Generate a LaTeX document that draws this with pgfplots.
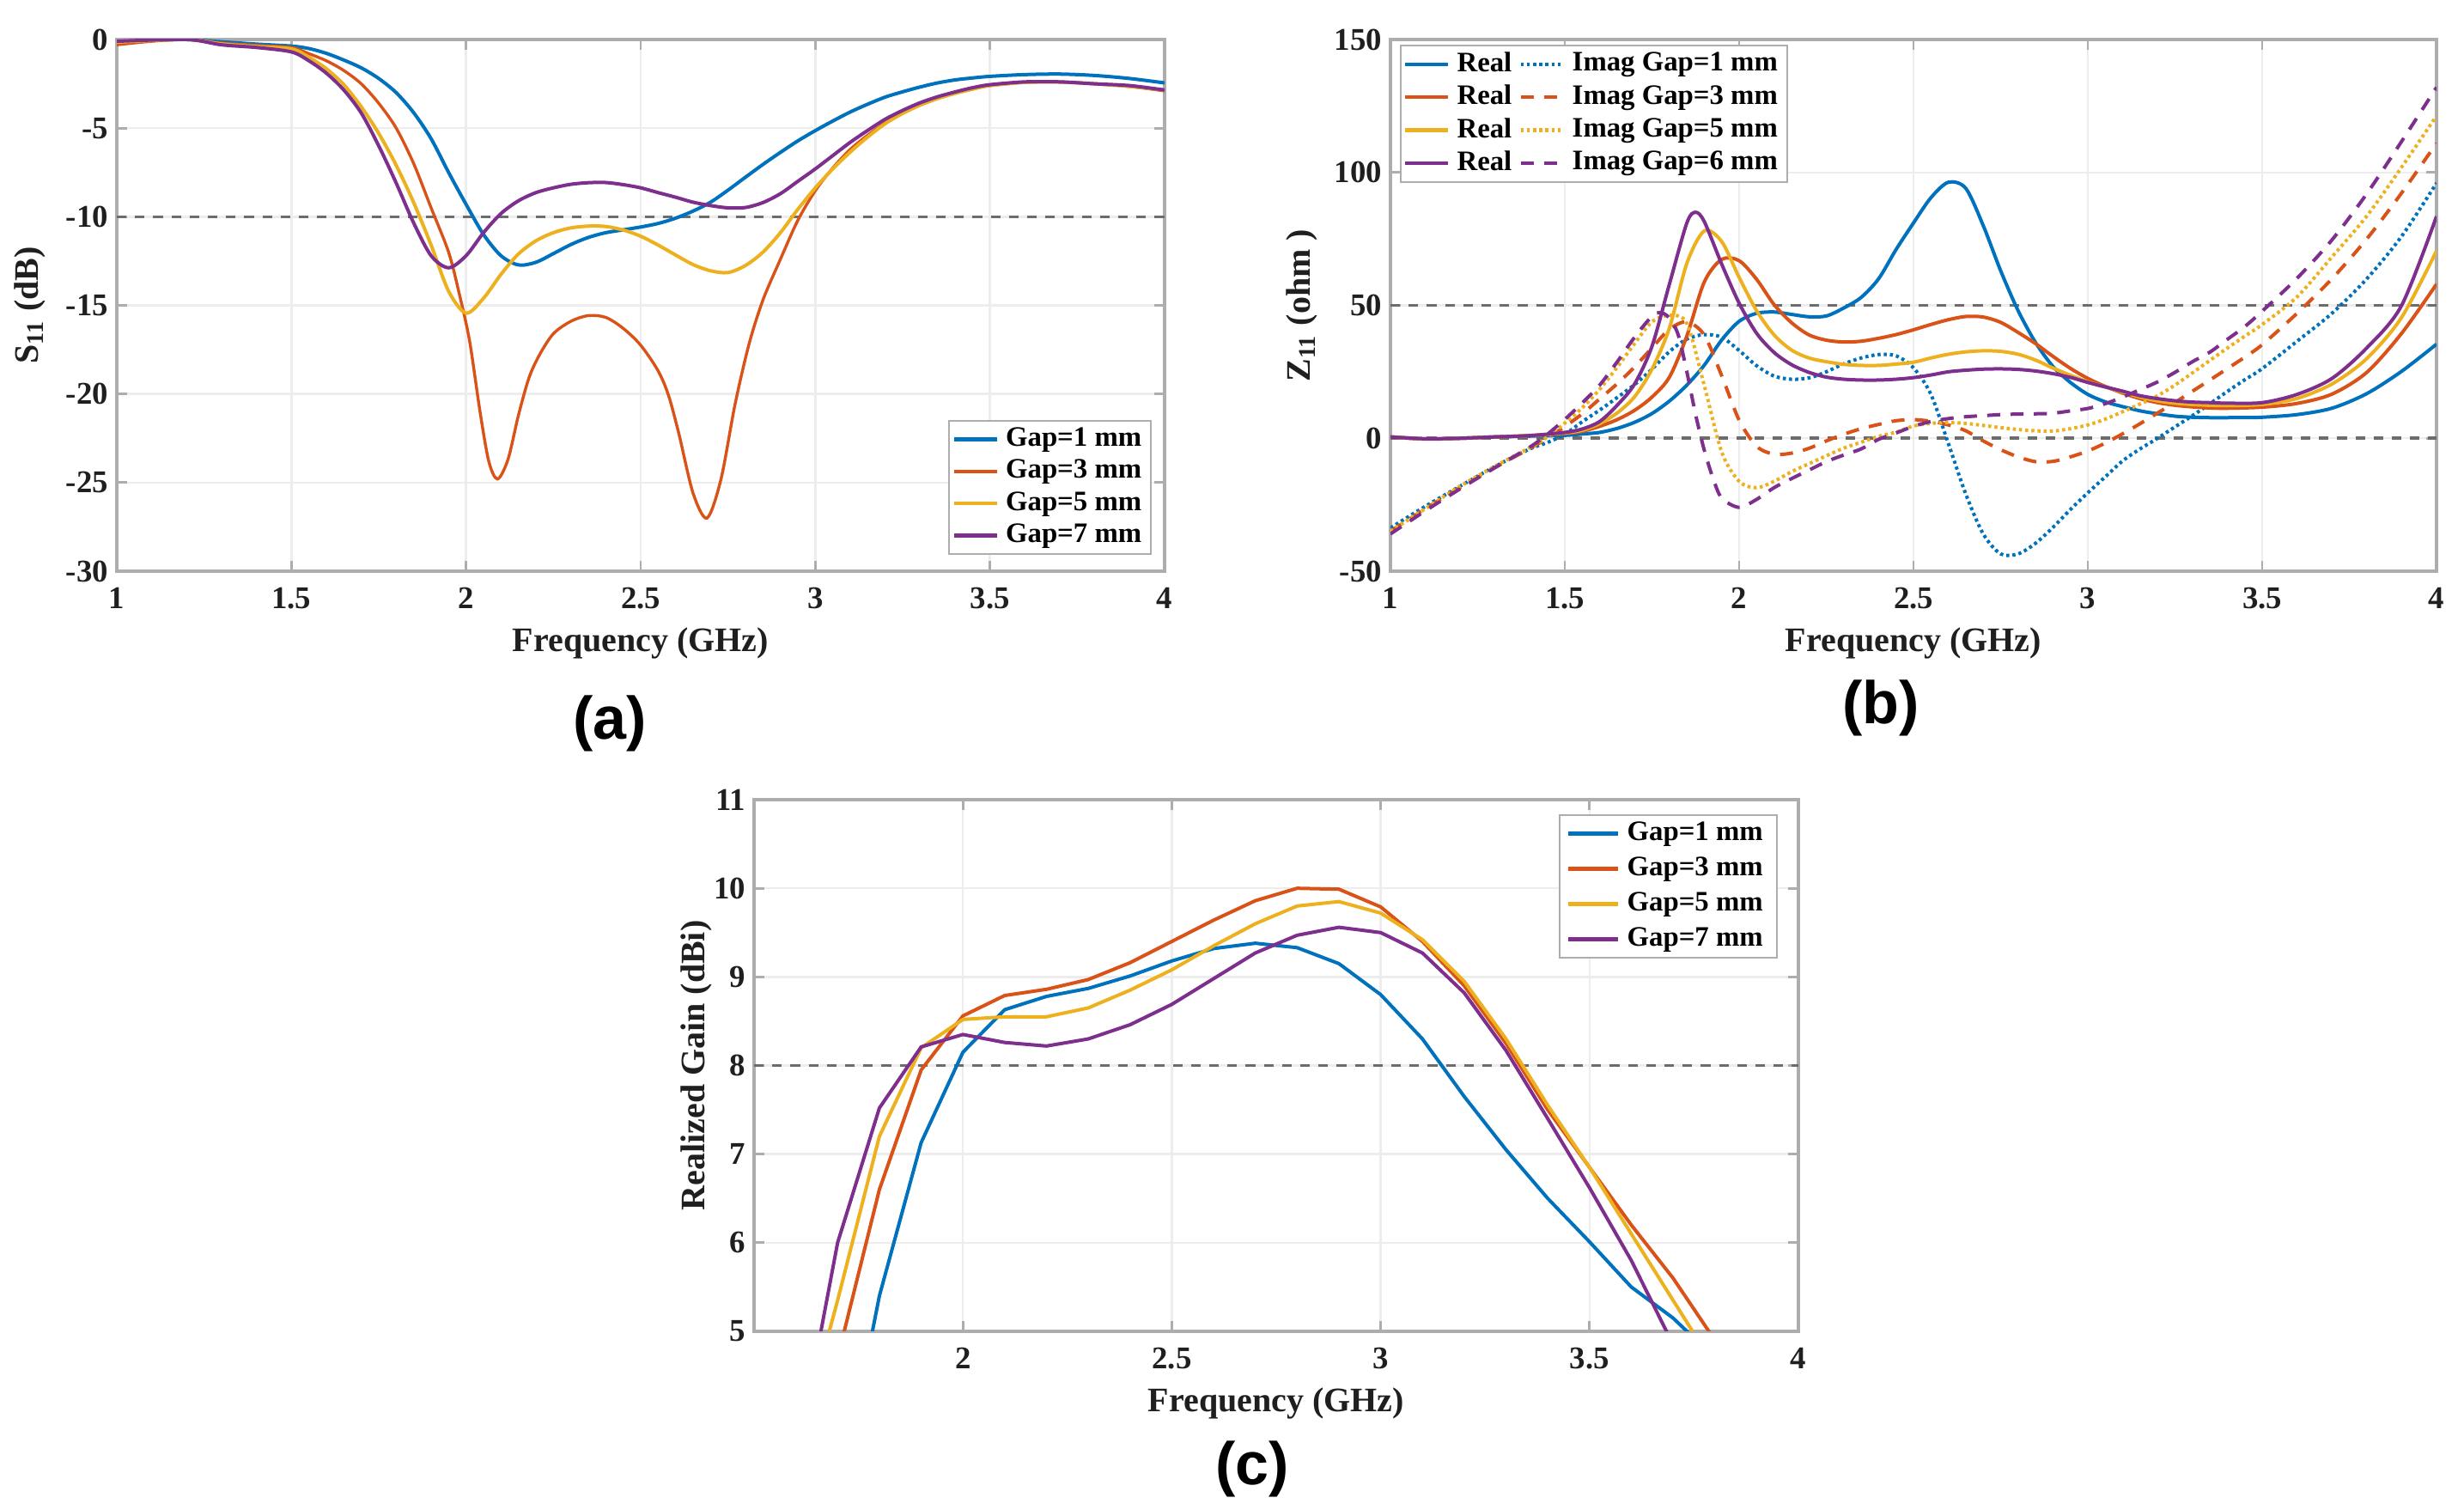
\documentclass[border=0pt]{standalone}
\usepackage{fontspec}
\usepackage{pgfplots}
\pgfplotsset{compat=1.18}
\setmainfont{Liberation Serif}
\newfontfamily\capfont{Liberation Sans}
\definecolor{c1}{HTML}{0072BD}
\definecolor{c2}{HTML}{D95319}
\definecolor{c3}{HTML}{EDB120}
\definecolor{c4}{HTML}{7E2F8E}
\definecolor{boxgray}{gray}{0.68}
\pgfplotsset{
  gapaxis/.style={
    scale only axis,
    anchor=south west,
    width=305pt, height=154.75pt,
    /pgf/number format/assume math mode=true,
    font=\fontsize{10}{12}\selectfont\bfseries,
    tick label style={font=\fontsize{9.2}{11}\selectfont\bfseries, black!88},
    xticklabel style={yshift=-1pt},
    yticklabel style={xshift=1.3pt},
    label style={font=\fontsize{10}{12}\selectfont\bfseries, black!88},
    axis line style={boxgray, line width=0.9pt},
    tick style={boxgray, line width=0.7pt},
    tick align=inside,
    major tick length=3pt,
    grid=major,
    major grid style={gray!14, line width=0.6pt},
    xtick pos=both, ytick pos=both,
    xlabel={Frequency (GHz)},
    xlabel style={yshift=1.8pt},
    line width=1pt,
    legend cell align=left,
    legend style={font=\fontsize{8.2}{9}\selectfont\bfseries, draw=boxgray, line width=0.5pt,
      inner xsep=0.8pt, inner ysep=0pt, row sep=-1.6pt, /tikz/every even column/.append style={column sep=0pt}},
    legend image post style={line width=1.1pt},
    legend image code/.code={\draw[#1] (0cm,0cm) -- (12.5pt,0cm);},
  },
  ref/.style={gray!85!black, dash pattern=on 2.8pt off 2.5pt, line width=0.9pt, forget plot},
  smooth curve/.style={smooth, tension=0.5, no marks},
  dotted line/.style={dash pattern=on 0.9pt off 0.9pt},
  dashed line/.style={dash pattern=on 3.8pt off 3pt},
}
\begin{document}
\begin{tikzpicture}
\path[use as bounding box] (0,0) rectangle (717.25pt,439.25pt);

% (a) S11
\begin{axis}[gapaxis, at={(34pt,273pt)},
  xmin=1, xmax=4, ymin=-30, ymax=0,
  xtick={1,1.5,2,2.5,3,3.5,4},
  ytick={-30,-25,-20,-15,-10,-5,0},
  ylabel={S\textsubscript{11} (dB)},
  ylabel style={yshift=-1.3pt},
  legend style={at={(0.988,0.03)}, anchor=south east},
]
\addplot[ref] coordinates {(1,-10) (4,-10)};
\addplot[c1, smooth curve] coordinates {
(1,-0.2)(1.1,-0.05)(1.2,0)(1.3,-0.13)(1.4,-0.26)(1.5,-0.37)(1.55,-0.51)(1.6,-0.78)(1.65,-1.16)(1.7,-1.6)(1.75,-2.2)(1.8,-3)(1.85,-4.13)(1.9,-5.6)(1.95,-7.5)(2,-9.3)(2.05,-11)(2.1,-12.2)(2.15,-12.72)(2.2,-12.57)(2.25,-12.08)(2.3,-11.57)(2.35,-11.17)(2.4,-10.9)(2.45,-10.74)(2.5,-10.58)(2.55,-10.38)(2.6,-10.08)(2.65,-9.68)(2.7,-9.18)(2.75,-8.5)(2.8,-7.77)(2.85,-7.05)(2.9,-6.37)(2.95,-5.72)(3,-5.14)(3.05,-4.6)(3.1,-4.09)(3.15,-3.65)(3.2,-3.25)(3.25,-2.95)(3.3,-2.68)(3.35,-2.45)(3.4,-2.28)(3.45,-2.17)(3.5,-2.08)(3.6,-1.98)(3.7,-1.95)(3.8,-2.03)(3.9,-2.2)(4,-2.45)};
\addlegendentry{Gap=1 mm}
\addplot[c2, smooth curve, line width=0.85pt] coordinates {
(1,-0.3)(1.1,-0.1)(1.2,0)(1.3,-0.2)(1.4,-0.33)(1.5,-0.45)(1.55,-0.8)(1.6,-1.2)(1.65,-1.75)(1.7,-2.5)(1.75,-3.6)(1.8,-5)(1.85,-7)(1.9,-9.5)(1.95,-12)(1.98,-14.3)(2.01,-17)(2.04,-21)(2.065,-23.8)(2.09,-24.8)(2.12,-23.7)(2.15,-21.2)(2.18,-19.1)(2.21,-17.8)(2.25,-16.6)(2.3,-15.9)(2.35,-15.58)(2.4,-15.68)(2.45,-16.3)(2.5,-17.25)(2.55,-18.7)(2.58,-20.1)(2.61,-22.3)(2.65,-25.6)(2.69,-27)(2.73,-24.8)(2.77,-20.6)(2.81,-17.2)(2.85,-14.7)(2.9,-12.4)(2.95,-10.2)(3,-8.53)(3.05,-7.25)(3.1,-6.2)(3.15,-5.4)(3.2,-4.7)(3.25,-4.15)(3.3,-3.7)(3.35,-3.33)(3.4,-3.04)(3.45,-2.8)(3.5,-2.6)(3.6,-2.42)(3.7,-2.4)(3.8,-2.5)(3.9,-2.65)(4,-2.9)};
\addlegendentry{Gap=3 mm}
\addplot[c3, smooth curve] coordinates {
(1,-0.15)(1.2,0)(1.3,-0.25)(1.4,-0.4)(1.5,-0.53)(1.55,-1)(1.6,-1.65)(1.65,-2.55)(1.7,-3.8)(1.75,-5.3)(1.8,-7.1)(1.85,-9.2)(1.9,-11.6)(1.95,-14.2)(2,-15.44)(2.05,-14.6)(2.1,-13.25)(2.15,-12.1)(2.2,-11.36)(2.25,-10.9)(2.3,-10.63)(2.35,-10.53)(2.4,-10.55)(2.45,-10.75)(2.5,-11.1)(2.55,-11.6)(2.6,-12.16)(2.65,-12.7)(2.7,-13.05)(2.75,-13.15)(2.8,-12.75)(2.85,-12)(2.9,-10.9)(2.95,-9.58)(3,-8.37)(3.05,-7.3)(3.1,-6.35)(3.15,-5.5)(3.2,-4.75)(3.25,-4.17)(3.3,-3.7)(3.35,-3.33)(3.4,-3.04)(3.45,-2.8)(3.5,-2.6)(3.6,-2.42)(3.7,-2.4)(3.8,-2.5)(3.9,-2.65)(4,-2.85)};
\addlegendentry{Gap=5 mm}
\addplot[c4, smooth curve] coordinates {
(1,-0.1)(1.2,0)(1.3,-0.3)(1.4,-0.45)(1.5,-0.7)(1.55,-1.2)(1.6,-1.9)(1.65,-2.85)(1.7,-4.15)(1.75,-6)(1.8,-8.1)(1.85,-10.35)(1.9,-12.2)(1.95,-12.88)(2,-12.2)(2.05,-10.9)(2.1,-9.82)(2.15,-9.1)(2.2,-8.64)(2.25,-8.37)(2.3,-8.17)(2.35,-8.08)(2.4,-8.07)(2.45,-8.19)(2.5,-8.37)(2.55,-8.64)(2.6,-8.9)(2.65,-9.18)(2.7,-9.37)(2.75,-9.5)(2.8,-9.48)(2.85,-9.2)(2.9,-8.7)(2.95,-8)(3,-7.3)(3.05,-6.55)(3.1,-5.8)(3.15,-5.13)(3.2,-4.5)(3.25,-4)(3.3,-3.57)(3.35,-3.23)(3.4,-2.96)(3.45,-2.72)(3.5,-2.55)(3.6,-2.39)(3.7,-2.39)(3.8,-2.5)(3.9,-2.6)(4,-2.85)};
\addlegendentry{Gap=7 mm}
\end{axis}

% (b) Z11
\begin{axis}[gapaxis, at={(404.75pt,273pt)}, width=304.5pt,
  xmin=1, xmax=4, ymin=-50, ymax=150,
  xtick={1,1.5,2,2.5,3,3.5,4},
  ytick={-50,0,50,100,150},
  ylabel={Z\textsubscript{11} (ohm )},
  ylabel style={yshift=-2.2pt},
  legend columns=2,
  legend style={at={(0.009,0.991)}, anchor=north west},
]
\addplot[ref] coordinates {(1,0) (4,0)};
\addplot[ref] coordinates {(1,50) (4,50)};
\addplot[c1, smooth curve] coordinates {
(1,0.5)(1.1,-0.2)(1.2,0)(1.3,0.5)(1.4,0.8)(1.5,1.1)(1.55,1.6)(1.6,2.2)(1.65,3.7)(1.7,6)(1.75,9.3)(1.8,14)(1.85,20)(1.9,27.5)(1.95,37)(2,44)(2.05,47)(2.1,47.5)(2.15,46.6)(2.2,45.7)(2.25,46)(2.3,49)(2.35,53)(2.4,60)(2.45,71)(2.5,81)(2.55,90.5)(2.6,96.3)(2.65,94)(2.7,80)(2.75,63)(2.8,48)(2.85,36)(2.9,27)(2.95,21)(3,16.5)(3.05,13.7)(3.1,11.9)(3.15,10.3)(3.2,9.2)(3.25,8.3)(3.3,7.9)(3.35,7.75)(3.4,7.75)(3.45,7.8)(3.5,7.9)(3.6,8.9)(3.7,11.3)(3.8,16.8)(3.9,25.2)(4,35.4)};
\addlegendentry{Real}
\addplot[c1, smooth curve, dotted line] coordinates {
(1,-33.7)(1.1,-25.6)(1.2,-18)(1.3,-10.6)(1.4,-4)(1.45,-1.6)(1.5,1.5)(1.55,6.2)(1.6,10.6)(1.65,15.3)(1.7,20.2)(1.75,26)(1.8,32.6)(1.85,37.3)(1.9,39)(1.95,38)(2,33)(2.05,27.3)(2.1,23.4)(2.15,22.2)(2.2,22.7)(2.25,25)(2.3,28)(2.35,30.2)(2.4,31.5)(2.45,31)(2.5,26.5)(2.55,16.5)(2.6,-2)(2.65,-21)(2.7,-36)(2.75,-43.5)(2.8,-43.5)(2.85,-39.5)(2.9,-33.5)(2.95,-26.8)(3,-20.5)(3.05,-14.5)(3.1,-8.5)(3.15,-4)(3.2,0)(3.25,4.3)(3.3,8.5)(3.35,13)(3.4,17.6)(3.45,22)(3.5,26.2)(3.6,36.5)(3.7,47)(3.8,60)(3.9,76)(4,96)};
\addlegendentry{Imag Gap=1 mm}
\addplot[c2, smooth curve] coordinates {
(1,0.5)(1.1,-0.3)(1.2,0)(1.3,0.5)(1.4,1)(1.5,1.8)(1.55,2.6)(1.6,4.5)(1.65,7)(1.7,10.5)(1.75,15.5)(1.8,23)(1.85,38.5)(1.9,58.8)(1.95,67.3)(2,66.8)(2.05,59.8)(2.1,50.3)(2.15,43.5)(2.2,38.9)(2.25,36.9)(2.3,36.2)(2.35,36.5)(2.4,37.6)(2.45,39)(2.5,40.8)(2.55,42.8)(2.6,44.6)(2.65,45.8)(2.7,45.6)(2.75,43.6)(2.8,39.8)(2.85,35.6)(2.9,30.8)(2.95,26.3)(3,22.5)(3.05,19.5)(3.1,17)(3.15,14.9)(3.2,13.4)(3.25,12.4)(3.3,11.8)(3.35,11.4)(3.4,11.3)(3.5,11.7)(3.6,13.1)(3.7,16.6)(3.8,24.8)(3.9,39.5)(4,58)};
\addlegendentry{Real}
\addplot[c2, smooth curve, dashed line] coordinates {
(1,-35)(1.1,-26.5)(1.2,-18.5)(1.3,-11)(1.4,-3.8)(1.45,0)(1.5,4.4)(1.55,9.2)(1.6,14.8)(1.65,20.5)(1.7,26.8)(1.75,34)(1.8,41)(1.85,43.8)(1.9,38.8)(1.95,23.5)(2,6.8)(2.05,-3)(2.1,-6)(2.15,-5.6)(2.2,-3.8)(2.25,-1)(2.3,1.5)(2.35,3.6)(2.4,5.2)(2.45,6.6)(2.5,7)(2.55,6.4)(2.6,5)(2.65,2.8)(2.7,-1)(2.75,-4.3)(2.8,-7)(2.85,-8.8)(2.9,-8.7)(2.95,-7)(3,-4.8)(3.05,-1.8)(3.1,1.7)(3.15,5.5)(3.2,9.5)(3.25,13.5)(3.3,17.7)(3.35,21.9)(3.4,26.2)(3.45,30.5)(3.5,35.2)(3.6,47)(3.7,60)(3.8,75)(3.9,92.3)(4,111)};
\addlegendentry{Imag Gap=3 mm}
\addplot[c3, smooth curve] coordinates {
(1,0.5)(1.1,-0.2)(1.2,0)(1.3,0.5)(1.4,1)(1.5,2)(1.55,3)(1.6,5.5)(1.65,9.5)(1.7,15.6)(1.75,26)(1.8,41.5)(1.85,65.8)(1.9,78)(1.95,74)(2,60.5)(2.05,48)(2.1,38.9)(2.15,33.2)(2.2,30.2)(2.25,28.8)(2.3,27.8)(2.35,27.4)(2.4,27.4)(2.45,27.9)(2.5,28.6)(2.55,30.2)(2.6,31.6)(2.65,32.5)(2.7,32.9)(2.75,32.7)(2.8,31.6)(2.85,29.4)(2.9,26.4)(2.95,23.7)(3,21.2)(3.05,19.3)(3.1,17.4)(3.15,15.5)(3.2,14.1)(3.25,13.2)(3.3,12.7)(3.35,12.4)(3.4,12.3)(3.5,12.7)(3.6,15)(3.7,20.4)(3.8,30)(3.9,45.5)(4,70.5)};
\addlegendentry{Real}
\addplot[c3, smooth curve, dotted line] coordinates {
(1,-35)(1.1,-26.5)(1.2,-18)(1.3,-10.5)(1.4,-3.5)(1.45,0.5)(1.5,5.7)(1.55,11.5)(1.6,18.4)(1.65,26.7)(1.7,35.6)(1.75,43.8)(1.8,46.2)(1.85,43.2)(1.9,19.8)(1.95,-5.2)(2,-16.2)(2.05,-18.6)(2.1,-16.2)(2.15,-12.6)(2.2,-9.6)(2.25,-6.6)(2.3,-3.7)(2.35,-1.5)(2.4,0.7)(2.45,2.3)(2.5,4.6)(2.55,5.6)(2.6,5.9)(2.65,5.6)(2.7,4.8)(2.75,4)(2.8,3.3)(2.85,2.8)(2.9,2.7)(2.95,3.6)(3,5)(3.05,7.2)(3.1,10)(3.15,12.9)(3.2,16)(3.25,20)(3.3,24.6)(3.35,29.3)(3.4,33.9)(3.45,38.4)(3.5,42.8)(3.6,53.2)(3.7,68.2)(3.8,83.6)(3.9,102)(4,121.3)};
\addlegendentry{Imag Gap=5 mm}
\addplot[c4, smooth curve] coordinates {
(1,0.5)(1.1,-0.2)(1.2,0)(1.3,0.5)(1.4,1)(1.5,2.2)(1.55,3.5)(1.6,6.3)(1.65,12.4)(1.7,20.4)(1.75,34.6)(1.8,58)(1.85,81)(1.875,85)(1.9,81.5)(1.95,65.5)(2,50.8)(2.05,39.5)(2.1,32.3)(2.15,27.7)(2.2,24.8)(2.25,23)(2.3,22.2)(2.35,21.9)(2.4,21.9)(2.45,22.2)(2.5,22.8)(2.55,23.8)(2.6,25)(2.65,25.6)(2.7,26)(2.75,26.1)(2.8,25.9)(2.85,25.3)(2.9,24.3)(2.95,22.9)(3,21)(3.05,19.3)(3.1,17.7)(3.15,16)(3.2,14.9)(3.25,14.1)(3.3,13.6)(3.35,13.4)(3.4,13.2)(3.5,13.4)(3.6,16.5)(3.7,22.5)(3.8,34)(3.9,50)(4,83.5)};
\addlegendentry{Real}
\addplot[c4, smooth curve, dashed line] coordinates {
(1,-36)(1.1,-27.3)(1.2,-19)(1.3,-11)(1.4,-3.3)(1.45,1.5)(1.5,7.1)(1.55,13.3)(1.6,20)(1.65,28.7)(1.7,38)(1.75,45.9)(1.775,47.3)(1.8,45.2)(1.825,39)(1.85,25)(1.875,9)(1.9,-4.5)(1.925,-15)(1.95,-22.5)(2,-26)(2.05,-23)(2.1,-18.6)(2.15,-15.2)(2.2,-12)(2.25,-8.8)(2.3,-6.3)(2.35,-4)(2.4,-0.4)(2.45,2)(2.5,4.5)(2.55,6.3)(2.6,7.4)(2.65,8.1)(2.7,8.5)(2.75,8.9)(2.8,9.1)(2.85,9.2)(2.9,9.4)(2.95,10.3)(3,11.2)(3.05,13)(3.1,15.5)(3.15,18.3)(3.2,21.2)(3.25,24.8)(3.3,28.8)(3.35,32.4)(3.4,37.2)(3.45,42)(3.5,47.8)(3.6,60.2)(3.7,74.6)(3.8,92)(3.9,111.7)(4,132)};
\addlegendentry{Imag Gap=6 mm}
\end{axis}

% (c) realized gain
\begin{axis}[gapaxis, at={(219.5pt,51.75pt)}, width=304pt,
  xmin=1.5, xmax=4, ymin=5, ymax=11,
  xtick={2,2.5,3,3.5,4},
  ytick={5,6,7,8,9,10,11},
  ylabel={Realized Gain (dBi)},
  ylabel style={yshift=-6.6pt},
  legend style={at={(0.98,0.973)}, anchor=north east, row sep=-0.7pt, inner xsep=2pt,
    /tikz/every even column/.append style={column sep=1.5pt}},
  legend image code/.code={\draw[#1] (0cm,0cm) -- (14.5pt,0cm);},
]
\addplot[ref] coordinates {(1.5,8) (4,8)};
\addplot[c1, no marks] coordinates {
(1.7,3)(1.8,5.4)(1.9,7.13)(2,8.15)(2.1,8.63)(2.2,8.78)(2.3,8.87)(2.4,9.01)(2.5,9.18)(2.6,9.32)(2.7,9.38)(2.8,9.33)(2.9,9.15)(3,8.8)(3.1,8.3)(3.2,7.65)(3.3,7.05)(3.4,6.5)(3.5,6.01)(3.6,5.5)(3.7,5.15)(3.8,4.7)};
\addlegendentry{Gap=1 mm}
\addplot[c2, no marks] coordinates {
(1.6,2.5)(1.7,4.7)(1.8,6.6)(1.9,7.95)(2,8.56)(2.1,8.79)(2.2,8.86)(2.3,8.97)(2.4,9.16)(2.5,9.4)(2.6,9.64)(2.7,9.86)(2.8,10)(2.9,9.99)(3,9.79)(3.1,9.4)(3.2,8.9)(3.3,8.25)(3.4,7.5)(3.5,6.85)(3.6,6.2)(3.7,5.6)(3.8,4.9)};
\addlegendentry{Gap=3 mm}
\addplot[c3, no marks] coordinates {
(1.6,3.6)(1.7,5.35)(1.8,7.2)(1.9,8.2)(2,8.52)(2.1,8.55)(2.2,8.55)(2.3,8.65)(2.4,8.85)(2.5,9.08)(2.6,9.35)(2.7,9.6)(2.8,9.8)(2.9,9.85)(3,9.72)(3.1,9.42)(3.2,8.95)(3.3,8.3)(3.4,7.55)(3.5,6.85)(3.6,6.1)(3.7,5.35)(3.8,4.6)};
\addlegendentry{Gap=5 mm}
\addplot[c4, no marks] coordinates {
(1.6,3.5)(1.7,6)(1.8,7.52)(1.9,8.21)(2,8.35)(2.1,8.26)(2.2,8.22)(2.3,8.3)(2.4,8.46)(2.5,8.69)(2.6,8.98)(2.7,9.27)(2.8,9.47)(2.9,9.56)(3,9.5)(3.1,9.27)(3.2,8.82)(3.3,8.17)(3.4,7.4)(3.5,6.62)(3.6,5.8)(3.7,4.85)};
\addlegendentry{Gap=7 mm}
\end{axis}

\node[font=\capfont\bfseries\fontsize{17.5}{20}\selectfont] at (177.5pt,228.6pt) {(a)};
\node[font=\capfont\bfseries\fontsize{17.5}{20}\selectfont] at (547.5pt,233.1pt) {(b)};
\node[font=\capfont\bfseries\fontsize{17.5}{20}\selectfont] at (364.5pt,11.6pt) {(c)};
\end{tikzpicture}
\end{document}
